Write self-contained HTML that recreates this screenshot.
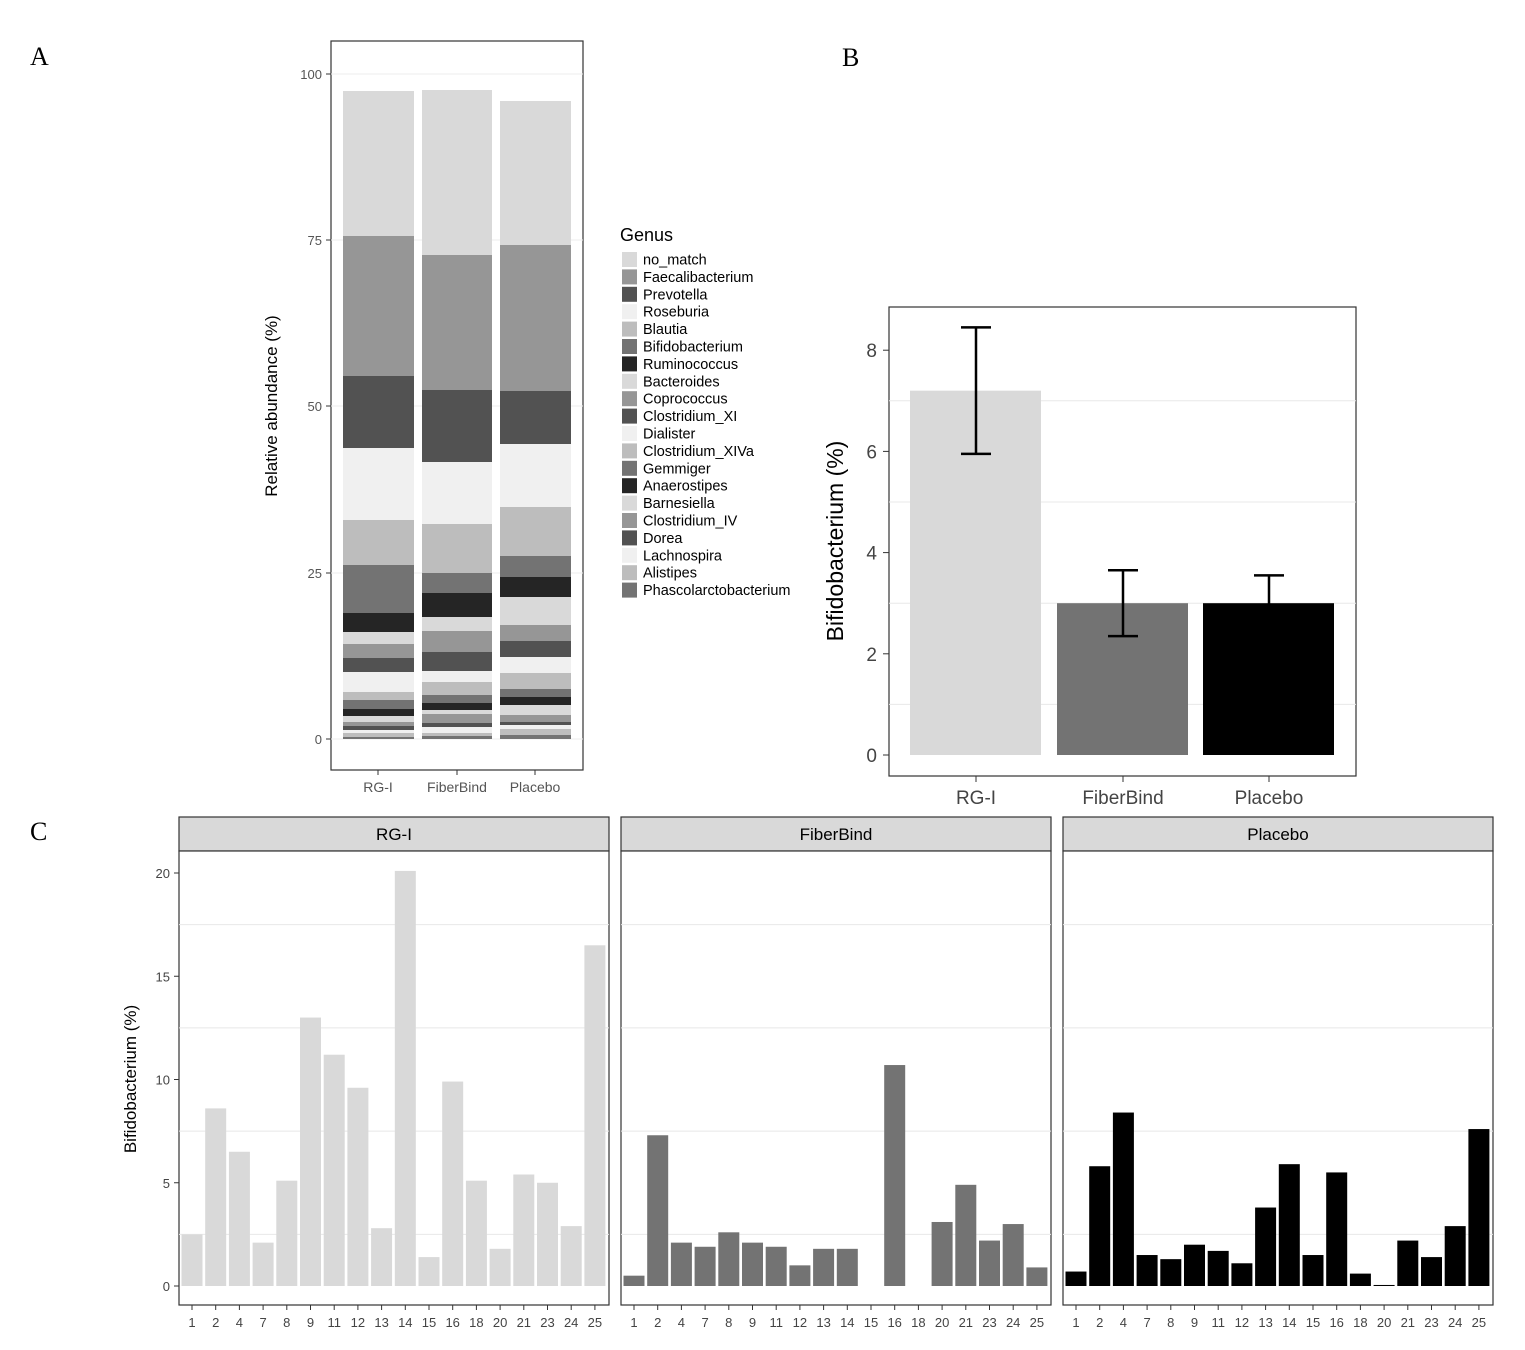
<!DOCTYPE html><html><head><style>body{margin:0;background:#fff}svg{display:block}text{font-family:"Liberation Sans",sans-serif}</style></head><body>
<svg id="s" width="1525" height="1350" xmlns="http://www.w3.org/2000/svg">
<text x="30" y="65" font-size="26" style="font-family:'Liberation Serif',serif">A</text>
<text x="842" y="66" font-size="26" style="font-family:'Liberation Serif',serif">B</text>
<text x="30" y="840" font-size="26" style="font-family:'Liberation Serif',serif">C</text>
<g id="A"></g><g id="B"></g><g id="C"></g>
</svg>
<script>
const NS="http://www.w3.org/2000/svg";
function el(p,t,a,txt){const e=document.createElementNS(NS,t);for(const k in a)e.setAttribute(k,a[k]);if(txt!==undefined)e.textContent=txt;document.getElementById(p).appendChild(e);return e;}
// Panel A
el("A","rect",{x:331,y:41,width:252,height:729,fill:"#fff",stroke:"#333","stroke-width":1.2});
[[739,"0"],[573,"25"],[406,"50"],[240,"75"],[74,"100"]].forEach(([y,t])=>{el("A","line",{x1:331,x2:583,y1:y,y2:y,stroke:"#eee"});el("A","line",{x1:326,x2:331,y1:y,y2:y,stroke:"#333"});el("A","text",{x:322,y:y+5,"text-anchor":"end","font-size":13,fill:"#555"},t);});
const cols=["#d9d9d9","#969696","#525252","#f0f0f0","#bdbdbd","#737373","#252525"];
const segs=[[91,236,376,448,520,565,613,632,644,658,672,692,700,709,716,722,726,730,733,737,739],
[90,255,390,462,524,573,593,617,631,652,671,682,695,703,710,714,723,727,733,736,739],
[101,245,391,444,507,556,577,597,625,641,657,673,689,697,705,715,722,725,729,735,739]];
const bx=[343,422,500],bw=[71,70,71],names=["RG-I","FiberBind","Placebo"];
segs.forEach((s,b)=>{for(let i=0;i<s.length-1;i++)el("A","rect",{x:bx[b],y:s[i],width:bw[b],height:s[i+1]-s[i],fill:cols[i%7]});
el("A","line",{x1:bx[b]+35,x2:bx[b]+35,y1:770,y2:775,stroke:"#333"});
el("A","text",{x:bx[b]+35,y:792,"text-anchor":"middle","font-size":14,fill:"#555"},names[b]);});
el("A","text",{transform:"translate(277,406) rotate(-90)","text-anchor":"middle","font-size":17},"Relative abundance (%)");
el("A","text",{x:620,y:241,"font-size":18},"Genus");
const gen=["no_match","Faecalibacterium","Prevotella","Roseburia","Blautia","Bifidobacterium","Ruminococcus","Bacteroides","Coprococcus","Clostridium_XI","Dialister","Clostridium_XIVa","Gemmiger","Anaerostipes","Barnesiella","Clostridium_IV","Dorea","Lachnospira","Alistipes","Phascolarctobacterium"];
gen.forEach((g,i)=>{const y=252+i*17.4;el("A","rect",{x:622,y:y,width:15,height:15,fill:cols[i%7]});el("A","text",{x:643,y:y+12.5,"font-size":14.5},g);});
// Panel B
el("B","rect",{x:889,y:307,width:467,height:469,fill:"#fff",stroke:"#333","stroke-width":1.2});
const yB=v=>755-v*50.6;
for(let v=1;v<=8;v+=2)el("B","line",{x1:889,x2:1356,y1:yB(v),y2:yB(v),stroke:"#e8e8e8"});
[0,2,4,6,8].forEach(v=>{el("B","line",{x1:883,x2:889,y1:yB(v),y2:yB(v),stroke:"#333"});el("B","text",{x:877,y:yB(v)+7,"text-anchor":"end","font-size":19,fill:"#444"},v);});
const bB=[[910,7.2,8.45,5.95,"#d9d9d9"],[1057,3.0,3.65,2.35,"#737373"],[1203,3.0,3.55,2.45,"#000"]];
bB.forEach(([x,v,hi,lo,c],i)=>{el("B","rect",{x:x,y:yB(v),width:131,height:yB(0)-yB(v),fill:c});
const cx=x+66;el("B","path",{d:`M${cx-15} ${yB(hi)}H${cx+15}M${cx} ${yB(hi)}V${yB(lo)}M${cx-15} ${yB(lo)}H${cx+15}`,stroke:"#000","stroke-width":2.5,fill:"none"});
el("B","line",{x1:cx,x2:cx,y1:776,y2:782,stroke:"#333"});el("B","text",{x:cx,y:804,"text-anchor":"middle","font-size":19,fill:"#444"},names[i]);});
el("B","text",{transform:"translate(843,541) rotate(-90)","text-anchor":"middle","font-size":23},"Bifidobacterium (%)");
// Panel C
const px=[179,621,1063];
const labs=["1","2","4","7","8","9","11","12","13","14","15","16","18","20","21","23","24","25"];
const vals=[[2.5,8.6,6.5,2.1,5.1,13,11.2,9.6,2.8,20.1,1.4,9.9,5.1,1.8,5.4,5,2.9,16.5],
[0.5,7.3,2.1,1.9,2.6,2.1,1.9,1,1.8,1.8,0,10.7,0,3.1,4.9,2.2,3,0.9],
[0.7,5.8,8.4,1.5,1.3,2.0,1.7,1.1,3.8,5.9,1.5,5.5,0.6,0.05,2.2,1.4,2.9,7.6]];
const cC=["#d9d9d9","#737373","#000"];
const yC=v=>1286-v*20.65;
px.forEach((x0,p)=>{el("C","rect",{x:x0,y:817,width:430,height:34,fill:"#d9d9d9",stroke:"#333","stroke-width":1.2});
el("C","text",{x:x0+215,y:840,"text-anchor":"middle","font-size":17},names[p]);
el("C","rect",{x:x0,y:851,width:430,height:454,fill:"#fff",stroke:"#333","stroke-width":1.2});
for(let v=2.5;v<=20;v+=5)el("C","line",{x1:x0,x2:x0+430,y1:yC(v),y2:yC(v),stroke:"#e8e8e8"});
vals[p].forEach((v,i)=>{const cx=x0+13+i*23.7;if(v>0)el("C","rect",{x:cx-10.5,y:yC(v),width:21,height:yC(0)-yC(v),fill:cC[p]});
el("C","line",{x1:cx,x2:cx,y1:1305,y2:1310,stroke:"#333"});el("C","text",{x:cx,y:1327,"text-anchor":"middle","font-size":13,fill:"#444"},labs[i]);});});
[0,5,10,15,20].forEach(v=>{el("C","line",{x1:174,x2:179,y1:yC(v),y2:yC(v),stroke:"#333"});el("C","text",{x:170,y:yC(v)+5,"text-anchor":"end","font-size":13,fill:"#444"},v);});
el("C","text",{transform:"translate(136,1079) rotate(-90)","text-anchor":"middle","font-size":17},"Bifidobacterium (%)");
</script></body></html>
